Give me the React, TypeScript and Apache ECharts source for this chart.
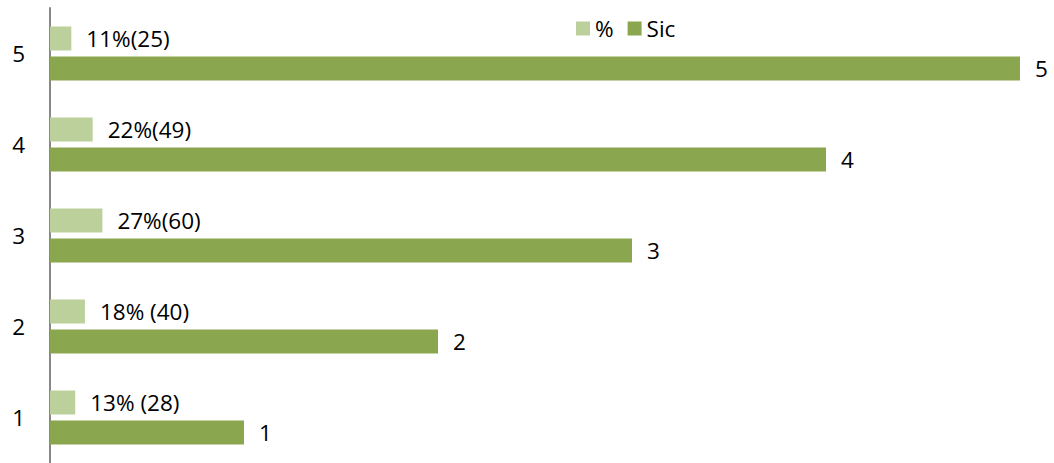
import React, { useEffect, useRef } from "react";
import * as echarts from "echarts";

const categories = ["1", "2", "3", "4", "5"];
const pctValues = [0.13, 0.18, 0.27, 0.22, 0.11];
const pctLabels = ["13% (28)", "18% (40)", "27%(60)", "22%(49)", "11%(25)"];
const sicValues = [1, 2, 3, 4, 5];

const FONT = "'Open Sans', 'Noto Sans', sans-serif";
const FS = 22.5;

export default function App() {
  const ref = useRef<HTMLDivElement>(null);
  useEffect(() => {
    if (!ref.current) return;
    const chart = echarts.init(ref.current, undefined, { renderer: "svg" });
    chart.setOption({
      animation: false,
      legend: {
        data: ["%", "Sic"],
        top: 12,
        left: 571,
        itemWidth: 14,
        itemHeight: 14,
        itemGap: 14,
        icon: "rect",
        textStyle: { fontFamily: FONT, fontSize: FS, color: "#000" },
      },
      grid: { left: 50, right: 34, top: 8, bottom: -6, containLabel: false },
      xAxis: {
        type: "value",
        min: 0,
        max: 5,
        show: false,
      },
      yAxis: {
        type: "category",
        data: categories,
        axisLine: { show: true, lineStyle: { color: "#888888", width: 2 } },
        axisTick: { show: false },
        axisLabel: { fontFamily: FONT, fontSize: FS, color: "#000", margin: 25 },
      },
      series: [
        {
          name: "%",
          type: "bar",
          data: pctValues,
          barWidth: 24,
          barGap: "25%",
          itemStyle: { color: "#bbd09a" },
          label: {
            show: true,
            position: "right",
            distance: 15,
            fontFamily: FONT,
            fontSize: FS,
            color: "#000",
            formatter: (p: any) => pctLabels[p.dataIndex],
          },
        },
        {
          name: "Sic",
          type: "bar",
          data: sicValues,
          barWidth: 24,
          barGap: "25%",
          itemStyle: { color: "#8aa64e" },
          label: {
            show: true,
            position: "right",
            distance: 15,
            fontFamily: FONT,
            fontSize: FS,
            color: "#000",
          },
        },
      ],
    });
    return () => chart.dispose();
  }, []);
  return <div ref={ref} style={{ width: 1054, height: 463, position: "absolute", left: 0, top: 0 }} />;
}
